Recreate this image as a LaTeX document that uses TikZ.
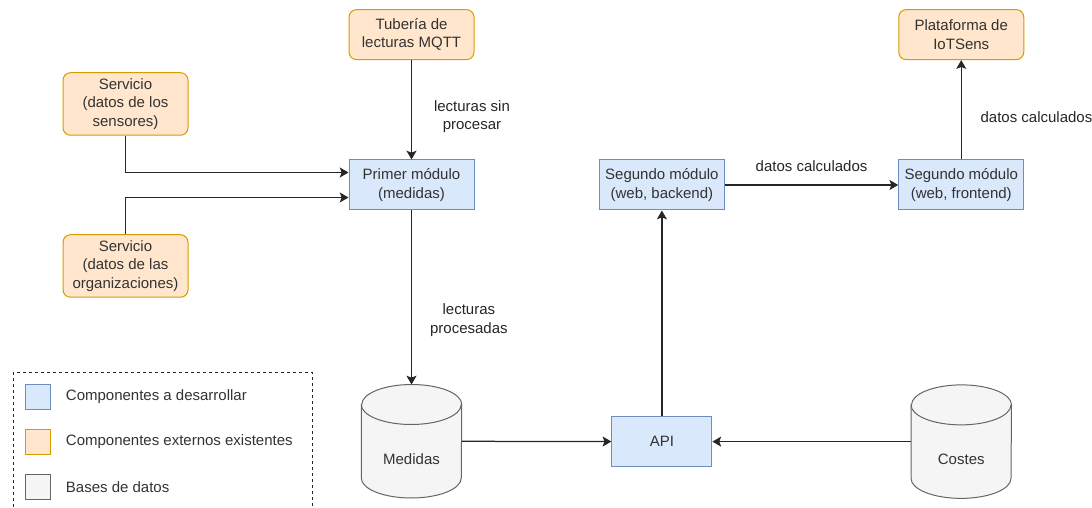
\documentclass[tikz,border=0pt]{standalone}
\usepackage{fontspec}
\setmainfont{Liberation Sans}
\usetikzlibrary{arrows.meta,positioning,backgrounds}

\definecolor{devfill}{HTML}{DAE8FC}
\definecolor{devline}{HTML}{6C8EBF}
\definecolor{extfill}{HTML}{FFE6CC}
\definecolor{extline}{HTML}{D79B00}
\definecolor{dbfill}{HTML}{F5F5F5}
\definecolor{dbline}{HTML}{666666}
\definecolor{txtgray}{HTML}{333333}

% upright cylinder drawn round a db node
\newcommand{\dbcylinder}[1]{%
  \draw[dbline, line width=0.8pt, fill=dbfill]
    ([yshift=-16pt]#1.north west) -- ([yshift=16pt]#1.south west)
    arc[start angle=180, end angle=360, x radius=40pt, y radius=16pt]
    -- ([yshift=-16pt]#1.north east)
    arc[start angle=0, end angle=180, x radius=40pt, y radius=16pt] -- cycle;
  \draw[dbline, line width=0.8pt]
    ([yshift=-16pt]#1.north west)
    arc[start angle=180, end angle=360, x radius=40pt, y radius=16pt];}

\begin{document}
\begin{tikzpicture}[
    %–––– GLOBAL STYLE TWEAKS ––––
    x=0.8pt, y=-0.8pt,                               % one unit = one pixel
    font=\fontsize{12}{14.5}\selectfont,
    text=txtgray,
    >={Stealth[length=7pt, width=8pt, inset=1.5pt]},
    dev/.style    = {rectangle, draw=devline, fill=devfill, line width=0.8pt,
                     align=center, minimum width=100pt, minimum height=40pt,
                     inner sep=2pt},                 % components to build
    ext/.style    = {dev, draw=extline, fill=extfill, rounded corners=6pt},
    extbig/.style = {ext, minimum height=50pt},      % three lines of text
    db/.style     = {rectangle, minimum width=80pt, minimum height=90.4pt,
                     inner sep=0pt, text height=37pt, text depth=0pt},
    lbl/.style    = {align=center, inner sep=0pt},
    legbox/.style = {rectangle, line width=0.8pt, minimum size=20pt, inner sep=0pt},
    arrow/.style  = {->, line width=1pt, black!85},
]
\useasboundingbox (0,0) rectangle (1092,508);

%–––– FIRST MODULE AND ITS INPUTS ––––
\node (primer)   [dev] at (411.5,185)         {Primer módulo\\(medidas)};
\node (tuberia)  [ext, above=79.5pt of primer] {Tubería de\\lecturas MQTT};
\node (sensores) [extbig] at (125.5,104)      {Servicio\\(datos de los\\sensores)};
\node (organiz)  [extbig] at (125.5,266)      {Servicio\\(datos de las\\organizaciones)};

%–––– SECOND MODULE ––––
\node (backend)    [dev, right=99.5pt of primer]   {Segundo módulo\\(web, backend)};
\node (frontend)   [dev, right=138.7pt of backend] {Segundo módulo\\(web, frontend)};
\node (plataforma) [ext, above=79.5pt of frontend] {Plataforma de\\IoTSens};

%–––– DATA STORES AND API ––––
\node (medidas) [db, below=139.2pt of primer]                    {Medidas};
\node (api)     [dev, minimum width=80pt, below=164.5pt of backend] {API};
\node (costes)  [db, right=158.9pt of api]                        {Costes};

\begin{scope}[on background layer]
  \dbcylinder{medidas}
  \dbcylinder{costes}
\end{scope}

%–––– ARROWS ––––
\draw[arrow] (tuberia) -- node[lbl, right=17.5pt, pos=.57] {lecturas sin\\procesar} (primer);
\draw[arrow] (sensores.south) |- ([yshift=10pt]primer.west);
\draw[arrow] (organiz.north) |- ([yshift=-10pt]primer.west);
\draw[arrow] (primer) -- node[lbl, right=14.4pt, pos=.63] {lecturas\\procesadas} (medidas);
\draw[arrow] (backend) -- node[lbl, above=10pt] {datos calculados} (frontend);
\draw[arrow] (frontend) -- node[lbl, right=15pt, pos=.43] {datos calculados} (plataforma);

\foreach \a/\b in {medidas/api, costes/api, api/backend}
  \draw[arrow] (\a) -- (\b);

%–––– LEGEND ––––
\draw[dashed, dash pattern=on 2.4pt off 2.4pt, line width=0.8pt, black!85]
  (13.3,372.3) rectangle (312,530);
\node (leg_dev) [legbox, draw=devline, fill=devfill] at (38.3,396.7) {};
\node (leg_ext) [legbox, draw=extline, fill=extfill, below=15.2pt of leg_dev] {};
\node (leg_db)  [legbox, draw=dbline,  fill=dbfill,  below=15.2pt of leg_ext] {};
\node (leg_dev_txt) [lbl, right=11.5pt of leg_dev] {Componentes a desarrollar};
\node (leg_ext_txt) [lbl, right=11.5pt of leg_ext] {Componentes externos existentes};
\node (leg_db_txt)  [lbl, right=11.5pt of leg_db]  {Bases de datos};
\end{tikzpicture}
\end{document}
